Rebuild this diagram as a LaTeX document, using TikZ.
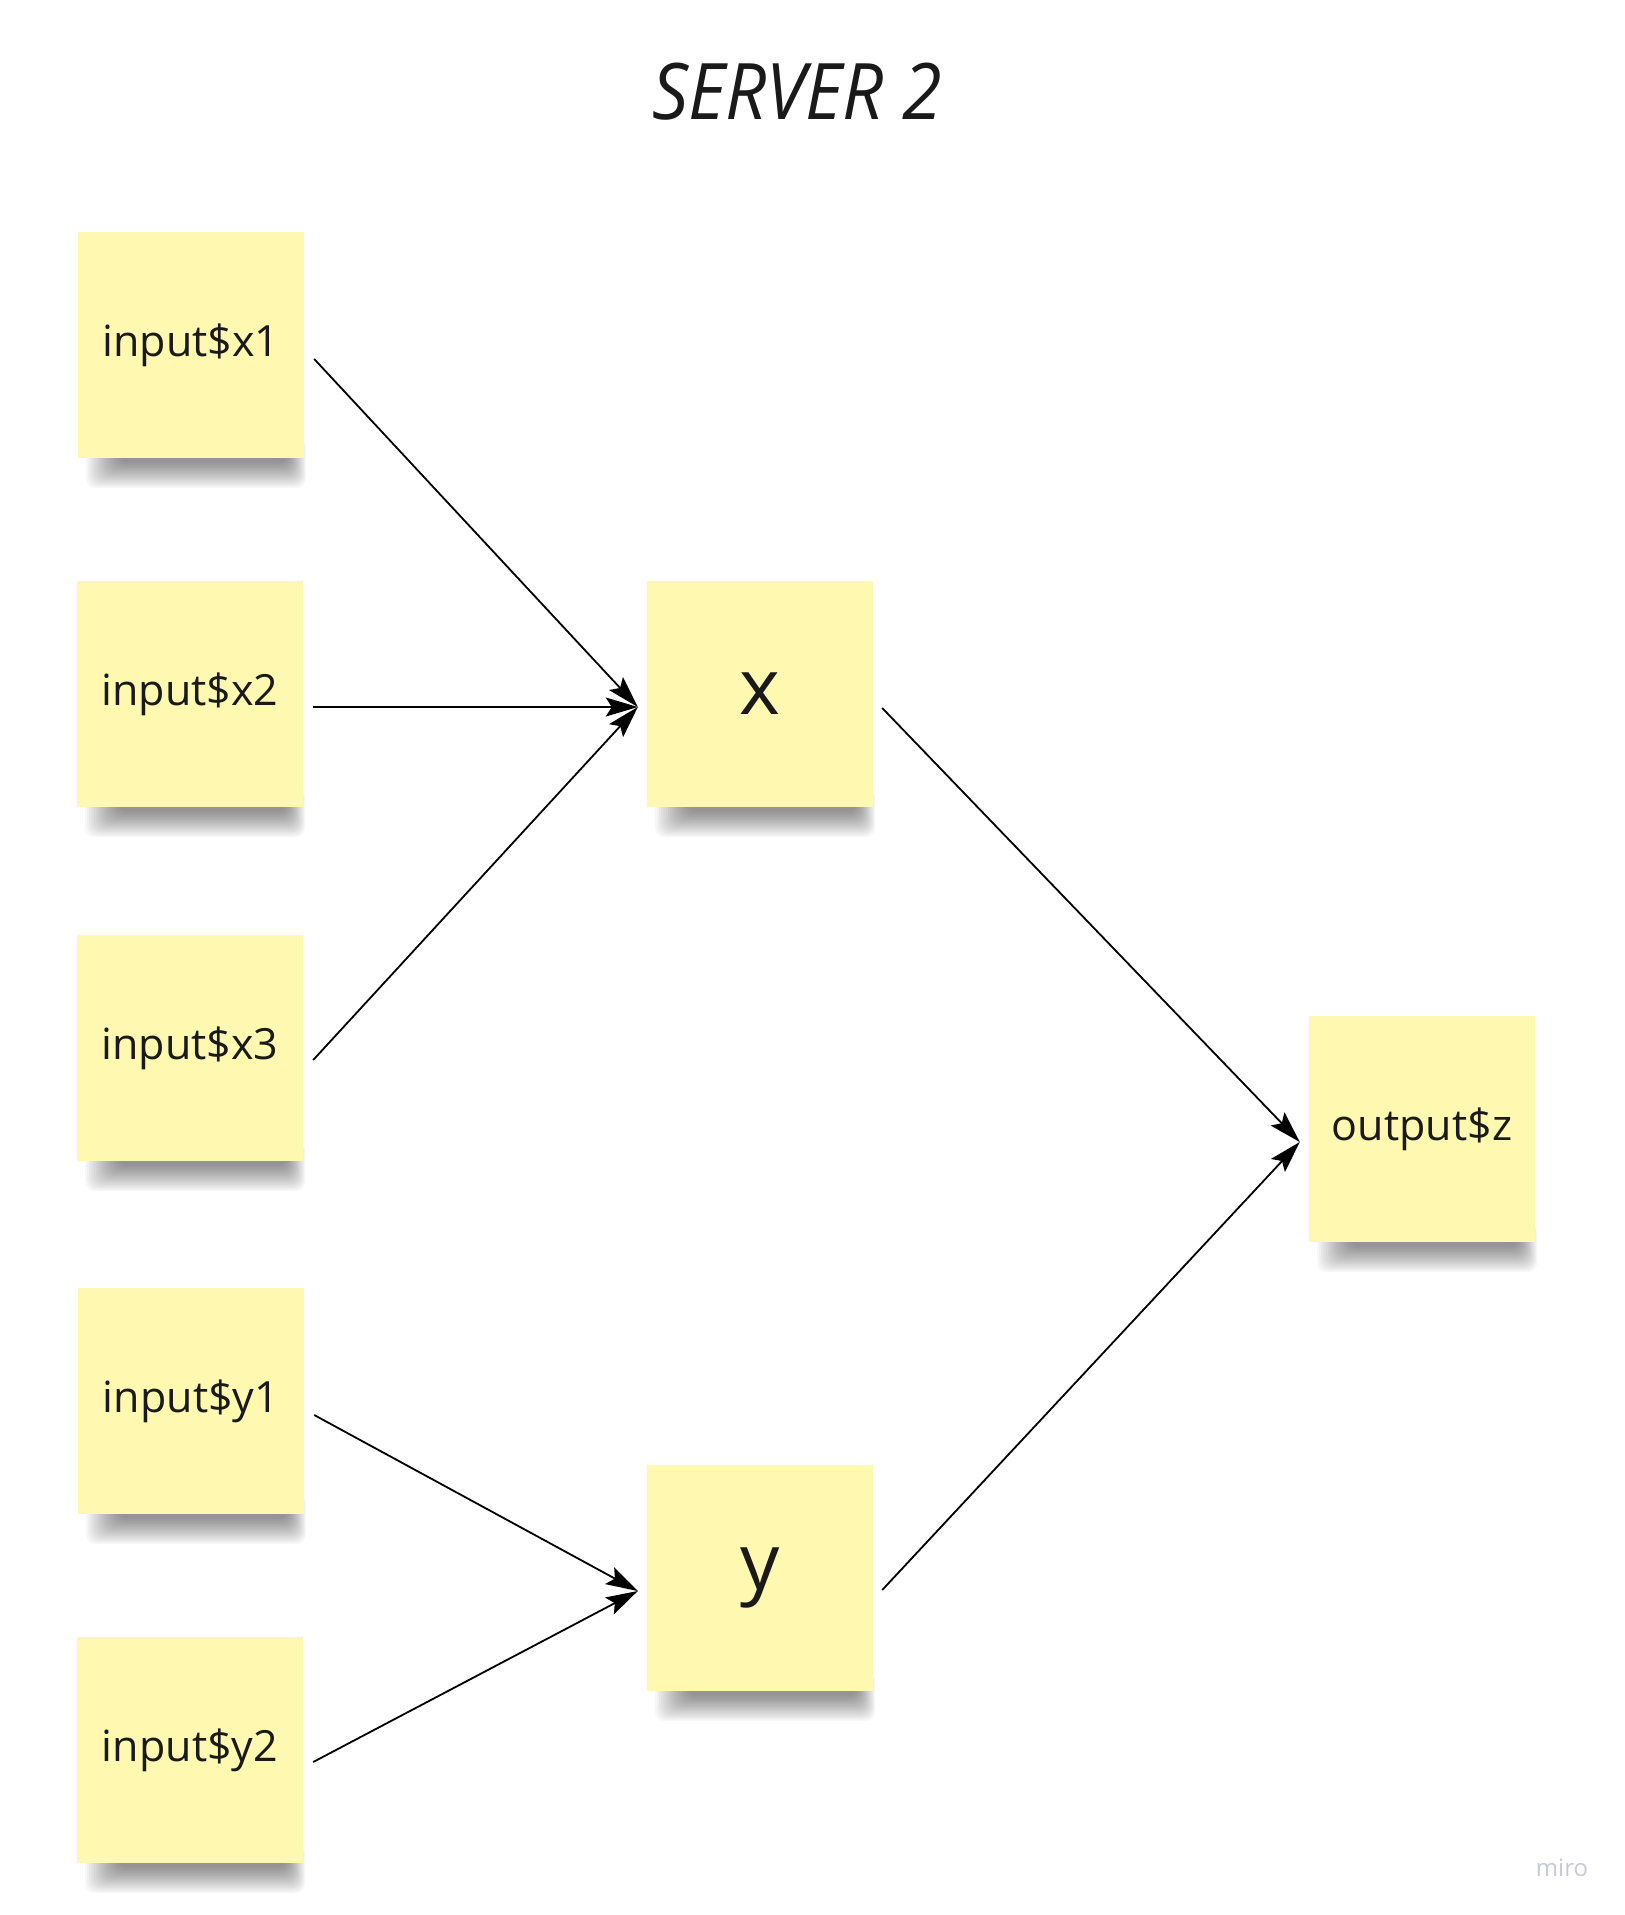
\documentclass[tikz,border=0pt]{standalone}
\usepackage{fontspec}
\setmainfont{Open Sans}
\usetikzlibrary{arrows.meta,backgrounds}
\definecolor{stickyyellow}{HTML}{FFF8B0}
\definecolor{inkblack}{HTML}{1A1A1A}
\definecolor{mirogray}{HTML}{C9C9D6}
\tikzset{
  sticky/.style={draw=none, fill=stickyyellow, inner sep=0pt,
    minimum width=226pt, minimum height=226pt, text=inkblack,
    font=\fontsize{43}{50}\selectfont},
  bigsticky/.style={sticky, font=\fontsize{78}{86}\selectfont},
  conn/.style={draw=black, line width=1.8pt, -{Stealth[length=32pt,width=19pt,inset=6pt]}},
  shadowlayer/.style={fill=black, opacity=0.03, rounded corners=10pt},
}
\newcommand{\stickyshadow}[1]{%
  \foreach \i in {0,1,...,15} {
    \path[shadowlayer] ([shift={(8+2.2*\i,-20)}]#1.south west) rectangle ([shift={(2-1.2*\i,30-1.7*\i)}]#1.south east);
  }%
}
\begin{document}
\begin{tikzpicture}[x=1pt,y=-1pt]
\begin{scope}[on background layer]
\fill[white] (0,0) rectangle (1625,1915);
\end{scope}
\useasboundingbox (0,0) rectangle (1625,1915);

\node[font=\itshape\fontsize{78}{86}\selectfont, xscale=0.92, text=inkblack] (title) at (797,92) {SERVER 2};

\node[sticky] (x1) at (191,345) {input\$x1};
\node[sticky] (x2) at (190,694) {input\$x2};
\node[sticky] (x3) at (190,1048) {input\$x3};
\node[sticky] (y1) at (191,1401) {input\$y1};
\node[sticky] (y2) at (190,1750) {input\$y2};
\node[bigsticky] (X) at (760,694) {x};
\node[bigsticky] (Y) at (760,1578) {y};
\node[sticky] (Z) at (1422,1129) {output\$z};

\begin{scope}[on background layer]
\stickyshadow{x1}
\stickyshadow{x2}
\stickyshadow{x3}
\stickyshadow{y1}
\stickyshadow{y2}
\stickyshadow{X}
\stickyshadow{Y}
\stickyshadow{Z}
\end{scope}

\node[font=\fontsize{24}{28}\selectfont, text=mirogray] (miro) at (1562,1868) {miro};

\draw[conn] ([shift={(10,14)}]x1.east) -- ([shift={(-9,13)}]X.west);
\draw[conn] ([shift={(10,13)}]x2.east) -- ([shift={(-9,13)}]X.west);
\draw[conn] ([shift={(10,12)}]x3.east) -- ([shift={(-9,13)}]X.west);
\draw[conn] ([shift={(10,14)}]y1.east) -- ([shift={(-9,13)}]Y.west);
\draw[conn] ([shift={(10,12)}]y2.east) -- ([shift={(-9,13)}]Y.west);
\draw[conn] ([shift={(9,14)}]X.east) -- ([shift={(-9,13)}]Z.west);
\draw[conn] ([shift={(9,12)}]Y.east) -- ([shift={(-9,13)}]Z.west);
\end{tikzpicture}
\end{document}
